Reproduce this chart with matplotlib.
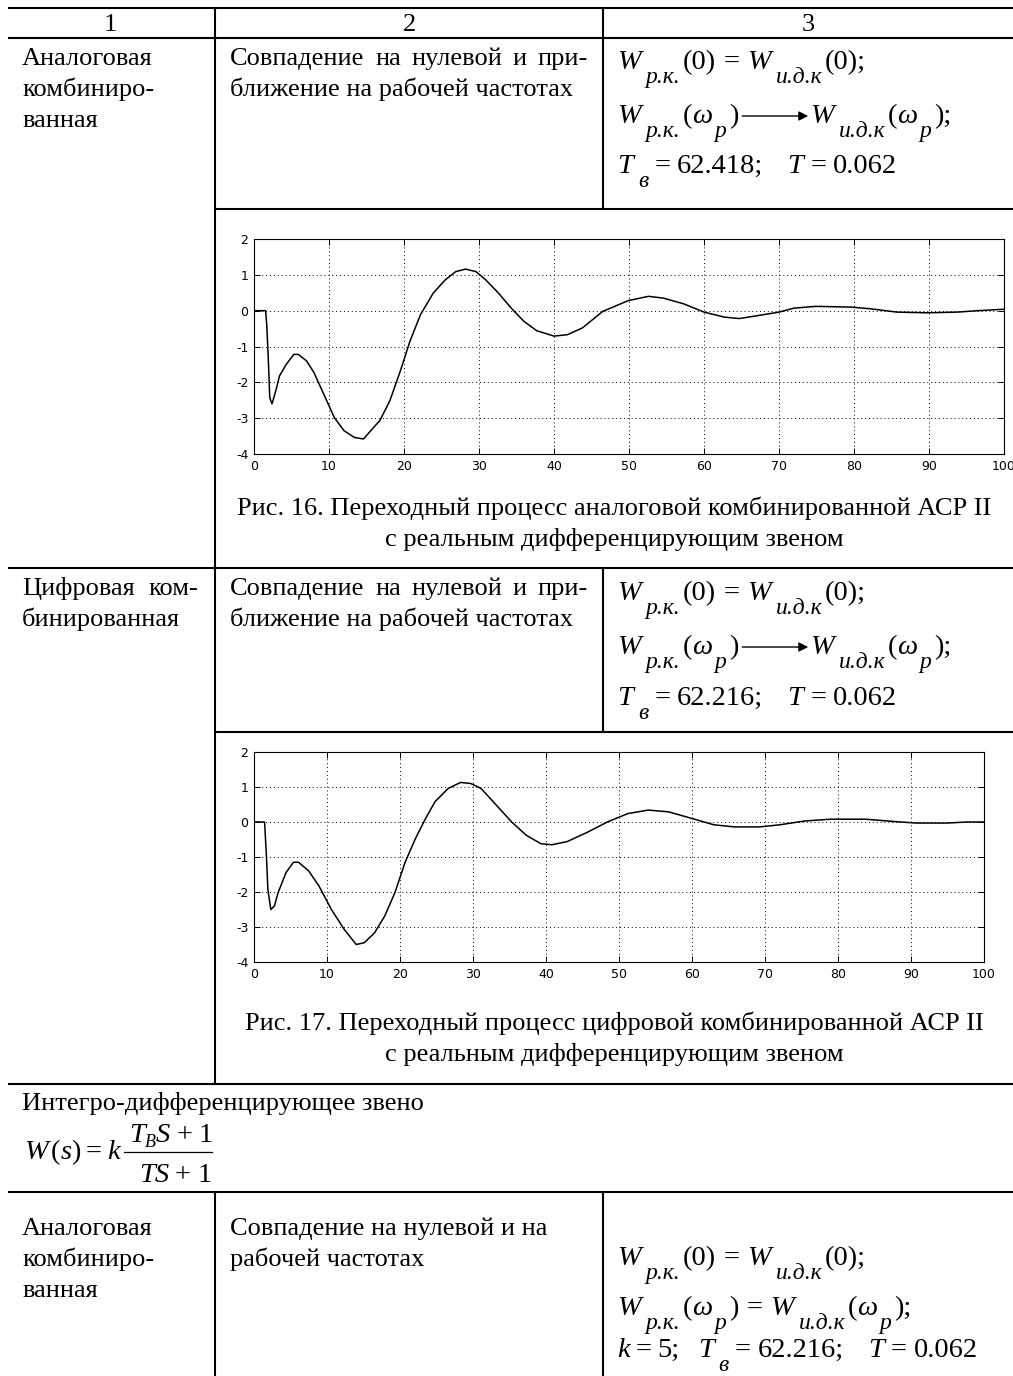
import matplotlib
matplotlib.use("Agg")
import matplotlib.pyplot as plt
import numpy as np

plt.rcParams['axes.unicode_minus'] = False

# ---------------- data ----------------
header = ["1", "2", "3"]

# transient response, analog combined control system with real differentiator
t_analog = [0, 1.55, 1.7, 1.9, 2.1, 2.4, 2.9, 3.4, 4.3, 5.3, 5.9, 7.0, 8.0, 9.3, 10.7,
            12.0, 13.4, 14.6, 15.4, 16.8, 18.1, 19.5, 20.8, 22.2, 23.9, 25.5, 26.9, 28.2,
            29.6, 30.9, 32.6, 34.3, 36.0, 37.7, 40.0, 41.8, 43.8, 46.5, 49.9, 52.6, 54.6,
            57.3, 60.0, 62.7, 64.7, 67.4, 70.0, 72.0, 74.9, 79.6, 82.3, 85.7, 89.7, 93.8,
            96.5, 100]
y_analog = [0, 0, -0.4, -1.3, -2.43, -2.6, -2.24, -1.82, -1.5, -1.22, -1.22, -1.4, -1.73,
            -2.33, -2.98, -3.35, -3.54, -3.58, -3.39, -3.06, -2.52, -1.69, -0.85, -0.11,
            0.49, 0.86, 1.09, 1.16, 1.09, 0.86, 0.49, 0.07, -0.3, -0.56, -0.71, -0.67,
            -0.48, -0.02, 0.28, 0.40, 0.35, 0.19, -0.04, -0.18, -0.22, -0.13, -0.04, 0.07,
            0.12, 0.10, 0.05, -0.04, -0.06, -0.04, 0.0, 0.04]

# transient response, digital combined control system with real differentiator
t_digital = [0, 1.45, 1.7, 1.9, 2.3, 2.8, 3.3, 4.4, 5.4, 6.1, 7.5, 8.9, 10.6, 12.4, 14.0,
             15.1, 16.5, 17.9, 19.3, 20.7, 22.1, 23.5, 24.8, 26.6, 28.3, 29.7, 31.1, 33.2,
             35.3, 37.3, 39.3, 40.8, 42.9, 45.7, 48.4, 51.2, 54.0, 56.8, 59.5, 63.0, 65.8,
             69.3, 72.0, 75.5, 79.0, 83.8, 87.3, 90.7, 94.9, 97.7, 100]
y_digital = [0, 0, -0.96, -1.92, -2.5, -2.4, -2.02, -1.44, -1.15, -1.15, -1.4, -1.83, -2.5,
             -3.08, -3.5, -3.45, -3.17, -2.69, -2.02, -1.15, -0.48, 0.1, 0.58, 0.96, 1.13,
             1.1, 0.96, 0.48, 0.0, -0.38, -0.62, -0.65, -0.56, -0.29, 0.0, 0.24, 0.34, 0.29,
             0.13, -0.08, -0.14, -0.14, -0.08, 0.03, 0.08, 0.08, 0.02, -0.03, -0.03, 0.0, 0.0]

x_ticks = [0, 10, 20, 30, 40, 50, 60, 70, 80, 90, 100]
y_ticks = [-4, -3, -2, -1, 0, 1, 2]
y_ticklabels = ["-4", "-3", "-2", "-1", "0", "1", "2"]

caption16 = ["Рис. 16. Переходный процесс аналоговой комбинированной АСР II",
             "с реальным дифференцирующим звеном"]
caption17 = ["Рис. 17. Переходный процесс цифровой комбинированной АСР II",
             "с реальным дифференцирующим звеном"]

# ---------------- page ----------------
W, H = 1013, 1376
fig = plt.figure(figsize=(W / 100, H / 100), dpi=100)
fig.patch.set_facecolor("white")
page = fig.add_axes([0, 0, 1, 1])
page.set_xlim(0, W)
page.set_ylim(H, 0)
page.axis("off")
renderer = fig.canvas.get_renderer()

SERIF = "Liberation Serif"
BODY = 19
MATH = 20.5
SUB = 17
SUB_DY = 14
LW = 1.5


def hline(y, x0, x1):
    page.plot([x0, x1], [y, y], color="k", lw=LW, solid_capstyle="butt")


def vline(x, y0, y1):
    page.plot([x, x], [y0, y1], color="k", lw=LW, solid_capstyle="butt")


def body(x, y, s, ha="left"):
    return page.text(x, y, s, fontsize=BODY, family=SERIF, ha=ha, va="baseline")


def width(t):
    return t.get_window_extent(renderer).width


def justified(x0, x1, y, s):
    words = s.split(" ")
    objs = [body(0, y, w) for w in words]
    ws = [width(o) for o in objs]
    gap = (x1 - x0 - sum(ws)) / (len(words) - 1)
    x = x0
    for o, w in zip(objs, ws):
        o.set_x(x)
        x += w + gap


def formula(x, y, pieces):
    for kind, s in pieces:
        if kind == "gap":
            x += s
            continue
        if kind == "arrow":
            page.annotate("", xy=(x + s, y - 7), xytext=(x, y - 7),
                          arrowprops=dict(arrowstyle="-|>", color="k", lw=1.0,
                                          mutation_scale=14, shrinkA=0, shrinkB=0))
            x += s
            continue
        size = {"it": MATH, "rm": MATH, "sub": SUB, "tiny": 13}[kind]
        style = "normal" if kind == "rm" else "italic"
        dy = SUB_DY if kind == "sub" else (5 if kind == "tiny" else 0)
        t = page.text(x, y + dy, s, fontsize=size, family=SERIF, style=style,
                      ha="left", va="baseline")
        x += width(t)
    return x


def eq_zero(x, y):
    formula(x, y, [("it", "W"), ("gap", 5), ("sub", "р.к."), ("gap", 2), ("rm", "(0)"),
                   ("gap", 8), ("rm", "="), ("gap", 8), ("it", "W"), ("gap", 5),
                   ("sub", "и.д.к"), ("gap", 2), ("rm", "(0);")])


def eq_omega(x, y, arrow):
    rel = [("gap", 4), ("arrow", 66), ("gap", 2)] if arrow else \
          [("gap", 8), ("rm", "="), ("gap", 8)]
    formula(x, y, [("it", "W"), ("gap", 5), ("sub", "р.к."), ("gap", 2), ("rm", "("),
                   ("it", "ω"), ("gap", 2), ("sub", "p"), ("gap", 3), ("rm", ")")] + rel +
            [("it", "W"), ("gap", 5), ("sub", "и.д.к"), ("gap", 2), ("rm", "("),
             ("it", "ω"), ("gap", 2), ("sub", "p"), ("gap", 3), ("rm", ");")])


def eq_params(x, y, tb, k=None):
    pieces = []
    if k is not None:
        pieces += [("it", "k"), ("gap", 6), ("rm", "="), ("gap", 6), ("rm", k + ";"),
                   ("gap", 18)]
    pieces += [("it", "T"), ("gap", 5), ("sub", "в"), ("gap", 6), ("rm", "="), ("gap", 7),
               ("rm", tb + ";"), ("gap", 24), ("it", "T"), ("gap", 7), ("rm", "="),
               ("gap", 7), ("rm", "0.062")]
    formula(x, y, pieces)


# table rules
hline(8, 8, W)
hline(38, 8, W)
hline(209, 215, W)
hline(568, 8, W)
hline(732, 215, W)
hline(1084, 8, W)
hline(1192, 8, W)
vline(215, 8, 1084)
vline(603, 8, 209)
vline(603, 568, 732)
vline(215, 1192, H)
vline(603, 1192, H)

# header
for cx, s in zip([110, 409, 808], header):
    body(cx, 31, s, ha="center")

# row: analog combined
body(22, 65, "Аналоговая")
body(22, 96, "комбиниро-")
body(22, 127, "ванная")
justified(230, 588, 65, "Совпадение на нулевой и при-")
body(230, 96, "ближение на рабочей частотах")
eq_zero(617, 69)
eq_omega(617, 123, arrow=True)
eq_params(617, 173, "62.418")

body(614, 515, caption16[0], ha="center")
body(614, 546, caption16[1], ha="center")

# row: digital combined
justified(22, 198, 595, "Цифровая ком-")
body(22, 626, "бинированная")
justified(230, 588, 595, "Совпадение на нулевой и при-")
body(230, 626, "ближение на рабочей частотах")
eq_zero(617, 600)
eq_omega(617, 654, arrow=True)
eq_params(617, 705, "62.216")

body(614, 1030, caption17[0], ha="center")
body(614, 1061, caption17[1], ha="center")

# integro-differentiating element
body(22, 1110, "Интегро-дифференцирующее звено")
BAR_Y = 1152
formula(24, BAR_Y + 7, [("it", "W"), ("gap", 3), ("rm", "("), ("it", "s"), ("rm", ")"),
                        ("gap", 5), ("rm", "="), ("gap", 5), ("it", "k")])
page.plot([124, 212], [BAR_Y, BAR_Y], color="k", lw=0.9)
formula(129, BAR_Y - 10, [("it", "T"), ("tiny", "B"), ("it", "S"), ("gap", 6),
                          ("rm", "+"), ("gap", 6), ("rm", "1")])
formula(139, BAR_Y + 30, [("it", "TS"), ("gap", 6), ("rm", "+"), ("gap", 6), ("rm", "1")])

# row: analog combined, integro-differentiating
body(22, 1235, "Аналоговая")
body(22, 1266, "комбиниро-")
body(22, 1297, "ванная")
body(230, 1235, "Совпадение на нулевой и на")
body(230, 1266, "рабочей частотах")
eq_zero(617, 1265)
eq_omega(617, 1315, arrow=False)
eq_params(617, 1357, "62.216", k="5")


# ---------------- plots ----------------
def response_axes(left, right, top, bottom, t, y):
    ax = fig.add_axes([left / W, 1 - bottom / H, (right - left) / W, (bottom - top) / H])
    ax.plot(t, y, color="k", lw=1.1)
    ax.set_xlim(0, 100)
    ax.set_ylim(-4, 2)
    ax.set_xticks(x_ticks)
    ax.set_xticklabels([str(v) for v in x_ticks])
    ax.set_yticks(y_ticks)
    ax.set_yticklabels(y_ticklabels)
    ax.grid(True, color="k", linestyle=(0, (1, 3)), lw=0.7)
    ax.tick_params(direction="in", length=4, width=0.7, top=True, right=True,
                   labelsize=9, pad=4, colors="k")
    for lab in ax.get_xticklabels() + ax.get_yticklabels():
        lab.set_family(["Liberation Sans Narrow", "DejaVu Sans"])
    for sp in ax.spines.values():
        sp.set_linewidth(0.8)
        sp.set_color("k")
    return ax


response_axes(254, 1004, 239, 454, t_analog, y_analog)
response_axes(254, 984, 752, 962, t_digital, y_digital)

fig.savefig("out.png", dpi=100, facecolor="white")
